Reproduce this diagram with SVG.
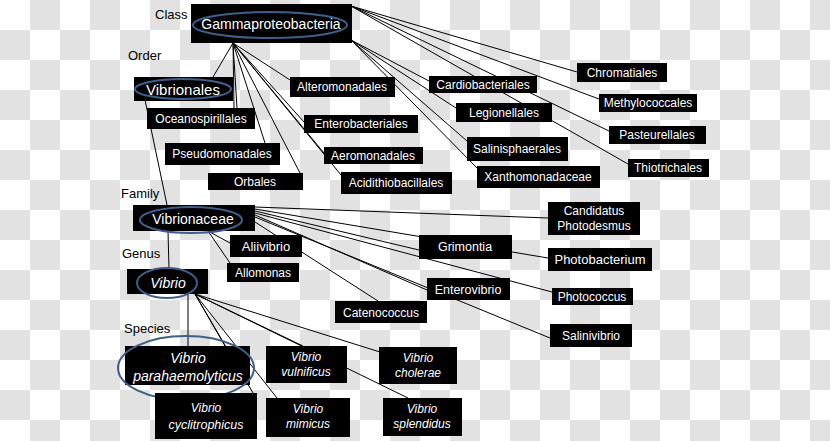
<svg xmlns="http://www.w3.org/2000/svg" width="830" height="441" viewBox="0 0 830 441">
<defs>
<pattern id="chk" patternUnits="userSpaceOnUse" width="60" height="60">
<rect width="60" height="60" fill="#ffffff"/>
<rect x="30" y="0" width="30" height="30" fill="#e2e2e2"/>
<rect x="0" y="30" width="30" height="30" fill="#e2e2e2"/>
</pattern>
<style>
.b{fill:#000}
.t{fill:#fff;font-family:"Liberation Sans",Arial,sans-serif;font-size:12px;text-anchor:middle}
.i{font-style:italic}
.lv{fill:#000;font-family:"Liberation Sans",Arial,sans-serif;font-size:13px}
.e{fill:none;stroke:#3d5f8a;stroke-width:2}
#conn line{stroke:#000;stroke-width:1}
</style>
</defs>
<rect width="830" height="441" fill="url(#chk)"/>
<g id="levels">
<text class="lv" x="155" y="19">Class</text>
<text class="lv" x="128" y="60">Order</text>
<text class="lv" x="121" y="198">Family</text>
<text class="lv" x="122" y="258">Genus</text>
<text class="lv" x="124" y="333">Species</text>
</g>
<g id="conn">
<line x1="233" y1="43" x2="213" y2="77"/>
<line x1="233" y1="43" x2="234" y2="108"/>
<line x1="233" y1="43" x2="237" y2="108"/>
<line x1="233" y1="43" x2="265" y2="143"/>
<line x1="233" y1="43" x2="300" y2="173"/>
<line x1="233" y1="43" x2="290" y2="80"/>
<line x1="233" y1="43" x2="304" y2="122"/>
<line x1="233" y1="43" x2="324" y2="153"/>
<line x1="233" y1="43" x2="341" y2="175"/>
<line x1="351" y1="40" x2="429" y2="81"/>
<line x1="351" y1="40" x2="456" y2="108"/>
<line x1="351" y1="40" x2="467" y2="141"/>
<line x1="351" y1="40" x2="477" y2="168"/>
<line x1="351" y1="6" x2="577" y2="72"/>
<line x1="351" y1="6" x2="599" y2="99"/>
<line x1="351" y1="6" x2="609" y2="131"/>
<line x1="351" y1="6" x2="628" y2="164"/>
<line x1="145" y1="100" x2="167" y2="205"/>
<line x1="168" y1="231" x2="169" y2="269"/>
<line x1="188" y1="294" x2="188" y2="346"/>
<line x1="255" y1="207" x2="548" y2="218"/>
<line x1="255" y1="209" x2="548" y2="258"/>
<line x1="255" y1="211" x2="419" y2="250"/>
<line x1="255" y1="213" x2="552" y2="292"/>
<line x1="255" y1="215" x2="427" y2="290"/>
<line x1="255" y1="217" x2="550" y2="338"/>
<line x1="255" y1="222" x2="378" y2="301"/>
<line x1="208" y1="231" x2="230" y2="243"/>
<line x1="208" y1="231" x2="230" y2="263"/>
<line x1="195" y1="294" x2="253" y2="393"/>
<line x1="195" y1="294" x2="277" y2="398"/>
<line x1="195" y1="294" x2="225" y2="346"/>
<line x1="195" y1="294" x2="303" y2="346"/>
<line x1="195" y1="294" x2="380" y2="352"/>
<line x1="195" y1="294" x2="408" y2="398"/>
</g>
<g id="gamma"><rect class="b" x="191" y="4" width="161" height="39"/><ellipse class="e" cx="270" cy="25" rx="77" ry="13"/><text class="t" x="271" y="29" style="font-size:14px">Gammaproteobacteria</text></g>
<g id="vibrionales"><rect class="b" x="134" y="77" width="99" height="24"/><ellipse class="e" cx="183" cy="89" rx="48" ry="10"/><text class="t" x="183" y="95" style="font-size:15px">Vibrionales</text></g>
<g id="oceanospirillales"><rect class="b" x="147" y="108" width="108" height="21"/><text class="t" x="201" y="123">Oceanospirillales</text></g>
<g id="pseudomonadales"><rect class="b" x="165" y="143" width="115" height="22"/><text class="t" x="222" y="158">Pseudomonadales</text></g>
<g id="orbales"><rect class="b" x="208" y="173" width="95" height="17"/><text class="t" x="255" y="186">Orbales</text></g>
<g id="alteromonadales"><rect class="b" x="290" y="77" width="105" height="20"/><text class="t" x="342" y="91">Alteromonadales</text></g>
<g id="enterobacteriales"><rect class="b" x="304" y="115" width="114" height="18"/><text class="t" x="361" y="128">Enterobacteriales</text></g>
<g id="aeromonadales"><rect class="b" x="324" y="147" width="99" height="17"/><text class="t" x="373" y="160">Aeromonadales</text></g>
<g id="acidithiobacillales"><rect class="b" x="341" y="172" width="111" height="22"/><text class="t" x="396" y="187">Acidithiobacillales</text></g>
<g id="cardiobacteriales"><rect class="b" x="429" y="76" width="108" height="17"/><text class="t" x="483" y="89">Cardiobacteriales</text></g>
<g id="legionellales"><rect class="b" x="456" y="103" width="96" height="19"/><text class="t" x="504" y="117">Legionellales</text></g>
<g id="salinisphaerales"><rect class="b" x="467" y="137" width="101" height="24"/><text class="t" x="517" y="153">Salinisphaerales</text></g>
<g id="xanthomonadaceae"><rect class="b" x="477" y="166" width="123" height="22"/><text class="t" x="538" y="181">Xanthomonadaceae</text></g>
<g id="chromatiales"><rect class="b" x="577" y="63" width="90" height="19"/><text class="t" x="622" y="77">Chromatiales</text></g>
<g id="methylococcales"><rect class="b" x="599" y="94" width="98" height="18"/><text class="t" x="648" y="107">Methylococcales</text></g>
<g id="pasteurellales"><rect class="b" x="609" y="126" width="97" height="18"/><text class="t" x="657" y="139">Pasteurellales</text></g>
<g id="thiotrichales"><rect class="b" x="628" y="159" width="81" height="18"/><text class="t" x="668" y="172">Thiotrichales</text></g>
<g id="vibrionaceae"><rect class="b" x="133" y="205" width="122" height="26"/><ellipse class="e" cx="191" cy="220" rx="51" ry="13"/><text class="t" x="193" y="224" style="font-size:14px">Vibrionaceae</text></g>
<g id="aliivibrio"><rect class="b" x="230" y="235" width="72" height="22"/><text class="t" x="266" y="251" style="font-size:13px">Aliivibrio</text></g>
<g id="allomonas"><rect class="b" x="227" y="263" width="72" height="19"/><text class="t" x="263" y="277">Allomonas</text></g>
<g id="grimontia"><rect class="b" x="419" y="235" width="93" height="24"/><text class="t" x="465" y="251" style="font-size:12.5px">Grimontia</text></g>
<g id="enterovibrio"><rect class="b" x="427" y="278" width="83" height="22"/><text class="t" x="468" y="294" style="font-size:12.5px">Enterovibrio</text></g>
<g id="catenococcus"><rect class="b" x="335" y="301" width="92" height="22"/><text class="t" x="381" y="317">Catenococcus</text></g>
<g id="candidatus"><rect class="b" x="548" y="202" width="92" height="33"/><text class="t" x="594" y="215">Candidatus</text><text class="t" x="594" y="230">Photodesmus</text></g>
<g id="photobacterium"><rect class="b" x="548" y="248" width="104" height="23"/><text class="t" x="600" y="264" style="font-size:13px">Photobacterium</text></g>
<g id="photococcus"><rect class="b" x="552" y="288" width="81" height="17"/><text class="t" x="592" y="301">Photococcus</text></g>
<g id="salinivibrio"><rect class="b" x="550" y="324" width="82" height="23"/><text class="t" x="591" y="340">Salinivibrio</text></g>
<g id="vibrio"><rect class="b" x="127" y="269" width="81" height="25"/><ellipse class="e" cx="167" cy="283" rx="30" ry="15"/><text class="t i" x="168" y="288" style="font-size:14px">Vibrio</text></g>
<g id="parahaemolyticus"><rect class="b" x="125" y="346" width="125" height="39"/><ellipse class="e" cx="186" cy="368" rx="68" ry="32"/><text class="t i" x="188" y="363" style="font-size:14px">Vibrio</text><text class="t i" x="188" y="381" style="font-size:14px">parahaemolyticus</text></g>
<g id="cyclitrophicus"><rect class="b" x="155" y="393" width="102" height="46"/><text class="t i" x="206" y="412">Vibrio</text><text class="t i" x="206" y="429" style="font-size:12.5px">cyclitrophicus</text></g>
<g id="vulnificus"><rect class="b" x="266" y="346" width="81" height="37"/><text class="t i" x="306" y="361">Vibrio</text><text class="t i" x="306" y="376">vulnificus</text></g>
<g id="cholerae"><rect class="b" x="379" y="347" width="78" height="37"/><text class="t i" x="418" y="362">Vibrio</text><text class="t i" x="418" y="377">cholerae</text></g>
<g id="mimicus"><rect class="b" x="266" y="398" width="84" height="39"/><text class="t i" x="308" y="413">Vibrio</text><text class="t i" x="308" y="428">mimicus</text></g>
<g id="splendidus"><rect class="b" x="383" y="398" width="79" height="38"/><text class="t i" x="422" y="413">Vibrio</text><text class="t i" x="422" y="428">splendidus</text></g>
</svg>
